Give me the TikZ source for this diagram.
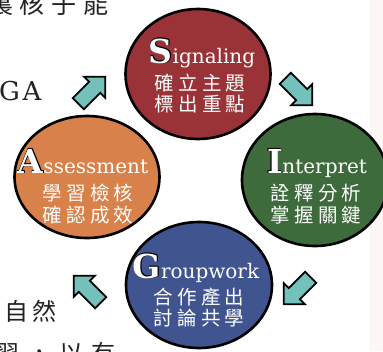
\documentclass[tikz,border=0pt]{standalone}
\usepackage{fontspec}
\setmainfont{DejaVu Serif}
\newfontfamily\zhfont[LetterSpace=22]{Noto Sans CJK TC}
\newfontfamily\bgfont{Noto Sans CJK TC}
\usetikzlibrary{shapes.geometric,shapes.arrows}
\definecolor{sigred}{HTML}{9A3337}
\definecolor{assorange}{HTML}{D9814A}
\definecolor{intgreen}{HTML}{3E6B3B}
\definecolor{grpblue}{HTML}{40558F}
\definecolor{turnteal}{HTML}{74C1BC}
\definecolor{pagetext}{HTML}{222222}
\definecolor{sidepanel}{HTML}{FCF7F4}
\newcommand\initcap[1]{{\fontsize{33}{33}\selectfont\bfseries
  \makebox[0pt][l]{\color{black}\kern-.8pt\raisebox{.8pt}{#1}}%
  \makebox[0pt][l]{\color{black}\kern.8pt\raisebox{-.8pt}{#1}}%
  \makebox[0pt][l]{\color{black}\kern.8pt\raisebox{.8pt}{#1}}%
  \makebox[0pt][l]{\color{black}\kern-.8pt\raisebox{-.8pt}{#1}}%
  #1}}
\begin{document}
\begin{tikzpicture}[x=1pt, y=-1pt,
  bubble/.style={ellipse, draw=black, line width=2.6pt},
  title/.style={text=white, anchor=base, inner sep=0pt,
    font=\fontsize{20}{20}\selectfont},
  zh/.style={text=white, align=center, inner sep=0pt,
    font=\zhfont\fontsize{19.5}{21.5}\selectfont},
  turn/.style={single arrow, draw=black, line width=1.8pt, fill=turnteal,
    minimum height=38pt, inner sep=7pt, single arrow head extend=7pt,
    single arrow head indent=0pt},
  bgtext/.style={text=pagetext, anchor=west, inner sep=0pt}]
  \useasboundingbox (0,0) rectangle (383,351);
  \fill[white] (0,0) rectangle (383,351);
  \fill[sidepanel] (370,0) rectangle (383,351);
  % page text round the cycle
  \node[bgtext, font=\bgfont\addfontfeature{LetterSpace=27}\fontsize{25}{25}\selectfont] (pgtop) at (-12,4) {裏核子能};
  \node[bgtext, font=\addfontfeature{LetterSpace=10}\fontsize{26}{26}\selectfont, anchor=base west] (pgga) at (-1,100) {GA};
  \node[bgtext, font=\bgfont\addfontfeature{LetterSpace=18}\fontsize{24}{24}\selectfont] (pgnat) at (4,311) {自然};
  \node[bgtext, font=\bgfont\addfontfeature{LetterSpace=34}\fontsize{24}{24}\selectfont] (pgbot) at (-5,353) {習，以有};
  % the four steps
  \node[bubble, fill=sigred, minimum width=145pt, minimum height=130pt] (sig) at (198,74) {};
  \node[bubble, fill=intgreen, minimum width=146pt, minimum height=132pt] (int) at (315,180) {};
  \node[bubble, fill=grpblue, minimum width=146pt, minimum height=126pt] (grp) at (199,285) {};
  \node[bubble, fill=assorange, minimum width=145pt, minimum height=122pt] (ass) at (87,177) {};
  \node[title] (sigt) at (202,63) {\initcap{S}ignaling};
  \node[zh] (sigz) at (200,93.5) {確立主題\\標出重點};
  \node[title] (intt) at (317,173) {\initcap{I}nterpret};
  \node[zh] (intz) at (316,204) {詮釋分析\\掌握關鍵};
  \node[title] (grpt) at (196,278) {\initcap{G}roupwork};
  \node[zh] (grpz) at (199,307.5) {合作產出\\討論共學};
  \node[title] (asst) at (83,173) {\initcap{A}ssessment};
  \node[zh] (assz) at (88,204) {學習檢核\\確認成效};
  % arrows between the steps
  \node[turn, rotate=45] (toSig) at (89,93) {};
  \node[turn, rotate=-45] (toInt) at (296,89) {};
  \node[turn, rotate=-135] (toGrp) at (300,288) {};
  \node[turn, rotate=135] (toAss) at (90,292) {};
\end{tikzpicture}
\end{document}
